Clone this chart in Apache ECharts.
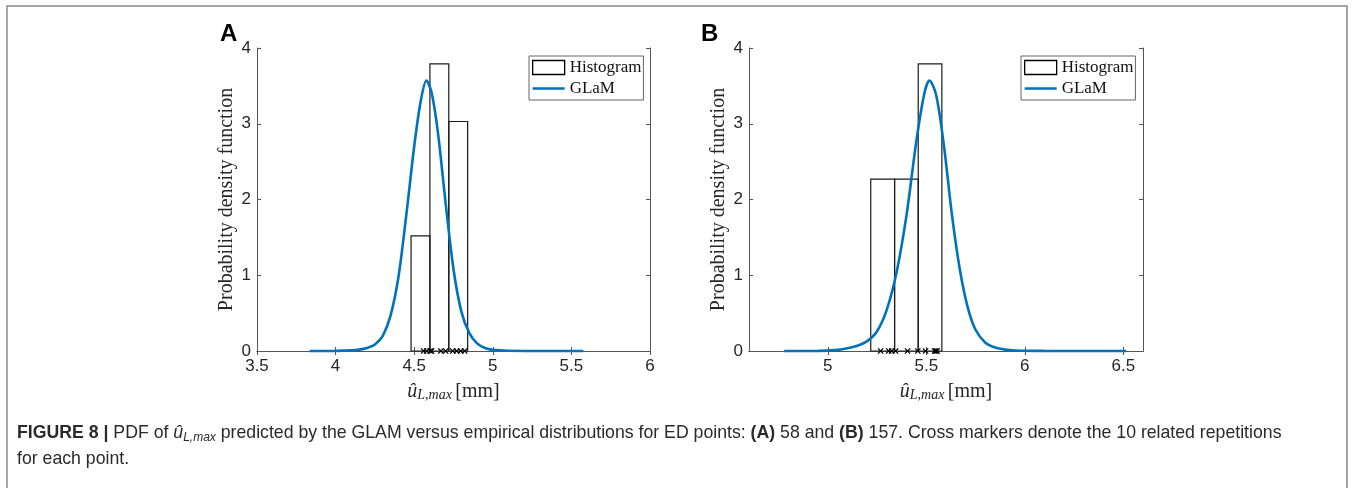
<!DOCTYPE html>
<html>
<head>
<meta charset="utf-8">
<script src="https://cdn.jsdelivr.net/npm/echarts@6/dist/echarts.min.js"></script>
<style>
html,body{margin:0;padding:0;background:#fff;}
#chart{width:1354px;height:488px;}
</style>
</head>
<body>
<div id="chart"></div>
<script>
// ---- Panel A data (ED point 58) ----
var histEdgesA = [4.48, 4.60, 4.72, 4.84];
var histHeightsA = [1.52, 3.79, 3.03];
var glamXA = [3.835, 4.00, 4.10, 4.15, 4.20, 4.25, 4.30, 4.35, 4.40, 4.45, 4.50, 4.54, 4.578, 4.61, 4.65, 4.70, 4.75, 4.80, 4.85, 4.90, 4.95, 5.00, 5.10, 5.30, 5.576];
var glamYA = [0, 0.002, 0.008, 0.018, 0.04, 0.085, 0.2, 0.47, 0.98, 1.80, 2.70, 3.28, 3.57, 3.42, 2.90, 1.95, 1.08, 0.52, 0.24, 0.10, 0.04, 0.015, 0.003, 0.0005, 0];
var crossesA = [4.560, 4.579, 4.602, 4.611, 4.669, 4.700, 4.745, 4.770, 4.796, 4.821];

// ---- Panel B data (ED point 157) ----
var histEdgesB = [5.218, 5.339, 5.459, 5.579];
var histHeightsB = [2.27, 2.27, 3.79];
var glamXB = [4.779, 4.95, 5.05, 5.10, 5.15, 5.20, 5.25, 5.30, 5.35, 5.40, 5.45, 5.49, 5.516, 5.55, 5.59, 5.63, 5.67, 5.71, 5.75, 5.80, 5.85, 5.90, 5.95, 6.10, 6.515];
var glamYB = [0, 0.002, 0.015, 0.035, 0.07, 0.13, 0.26, 0.55, 1.05, 1.80, 2.78, 3.40, 3.57, 3.38, 2.70, 1.80, 1.08, 0.58, 0.28, 0.11, 0.045, 0.018, 0.007, 0.001, 0];
var crossesB = [5.268, 5.309, 5.324, 5.344, 5.405, 5.457, 5.496, 5.542, 5.549, 5.555];

// ---- Axis ticks ----
var yTicks = [0, 1, 2, 3, 4];
var xTicksA = [3.5, 4, 4.5, 5, 5.5, 6];
var xTicksB = [5, 5.5, 6, 6.5];

var SERIF = "'Liberation Serif', 'Times New Roman', serif";
var SANS = "'Liberation Sans', Arial, Helvetica, sans-serif";
var AXC = '#555';
var TXC = '#262626';
var BLUE = '#0072BD';

function pairs(xs, ys) { return xs.map(function (x, i) { return [x, ys[i]]; }); }
function bins(edges, h) {
  var out = [];
  for (var i = 0; i < h.length; i++) out.push([edges[i], edges[i + 1], h[i]]);
  return out;
}

function xAxes(gi, min, max, ticks) {
  var common = {
    type: 'value', gridIndex: gi, min: min, max: max,
    splitLine: { show: false },
    axisLine: { show: true, lineStyle: { color: AXC, width: 1 } },
    axisTick: { show: true, inside: true, length: 4, lineStyle: { color: AXC }, customValues: ticks },
  };
  var bottom = Object.assign({}, common, {
    position: 'bottom',
    axisLabel: { show: true, customValues: ticks, margin: 7, fontFamily: SANS, fontSize: 17, color: TXC },
    name: '{u|\u00fb}{s|L,max} {n|[mm]}',
    nameLocation: 'middle', nameGap: 27,
    nameTextStyle: {
      rich: {
        u: { fontFamily: SERIF, fontStyle: 'italic', fontSize: 20, color: TXC, verticalAlign: 'top', lineHeight: 20 },
        s: { fontFamily: SERIF, fontStyle: 'italic', fontSize: 14, color: TXC, verticalAlign: 'bottom', lineHeight: 14, padding: [8, 0, 0, 0] },
        n: { fontFamily: SERIF, fontSize: 20, color: TXC, verticalAlign: 'top', lineHeight: 20 }
      }
    }
  });
  var top = Object.assign({}, common, { position: 'top', axisLabel: { show: false } });
  return [bottom, top];
}
function yAxes(gi) {
  var common = {
    type: 'value', gridIndex: gi, min: 0, max: 4, interval: 1,
    splitLine: { show: false },
    axisLine: { show: true, lineStyle: { color: AXC, width: 1 } },
    axisTick: { show: true, inside: true, length: 4, lineStyle: { color: AXC } }
  };
  var left = Object.assign({}, common, {
    position: 'left',
    axisLabel: { show: true, margin: 6, fontFamily: SANS, fontSize: 17, color: TXC },
    name: 'Probability density function', nameLocation: 'middle', nameGap: 20,
    nameTextStyle: { fontFamily: SERIF, fontSize: 20, color: TXC }
  });
  var right = Object.assign({}, common, { position: 'right', axisLabel: { show: false } });
  return [left, right];
}

function histSeries(xi, yi, data) {
  return {
    name: 'Histogram', type: 'custom', xAxisIndex: xi, yAxisIndex: yi, z: 2,
    itemStyle: { color: '#fff', borderColor: '#000' },
    encode: { x: [0, 1], y: 2 },
    data: data,
    renderItem: function (params, api) {
      var p0 = api.coord([api.value(0), api.value(2)]);
      var p1 = api.coord([api.value(1), 0]);
      return {
        type: 'rect',
        shape: { x: p0[0], y: p0[1], width: p1[0] - p0[0], height: p1[1] - p0[1] },
        style: { fill: 'none', stroke: '#1a1a1a', lineWidth: 1.2 }
      };
    }
  };
}
function crossSeries(xi, yi, xs) {
  return {
    name: 'crosses', type: 'custom', xAxisIndex: xi, yAxisIndex: yi, z: 5,
    data: xs.map(function (x) { return [x, 0]; }),
    renderItem: function (params, api) {
      var p = api.coord([api.value(0), api.value(1)]);
      var r = 2.6;
      return {
        type: 'group',
        children: [
          { type: 'line', shape: { x1: p[0] - r, y1: p[1] - r, x2: p[0] + r, y2: p[1] + r }, style: { stroke: '#000', lineWidth: 1.3 } },
          { type: 'line', shape: { x1: p[0] - r, y1: p[1] + r, x2: p[0] + r, y2: p[1] - r }, style: { stroke: '#000', lineWidth: 1.3 } }
        ]
      };
    }
  };
}
function glamSeries(xi, yi, data) {
  return {
    name: 'GLaM', type: 'line', xAxisIndex: xi, yAxisIndex: yi, z: 4,
    data: data, smooth: 0.3, symbol: 'none', showSymbol: false,
    lineStyle: { color: BLUE, width: 2.6 }, itemStyle: { color: BLUE },
    clip: false
  };
}
function legendAt(left) {
  return {
    left: left, top: 56, orient: 'vertical',
    padding: [3, 2, 3, 3], itemGap: 4, itemWidth: 32, itemHeight: 14,
    backgroundColor: '#fff', borderColor: '#666', borderWidth: 1,
    selectedMode: false, symbolKeepAspect: true,
    textStyle: { fontFamily: SERIF, fontSize: 17, color: '#111', lineHeight: 16 },
    data: [
      { name: 'Histogram', icon: 'rect', itemStyle: { color: '#fff', borderColor: '#000', borderWidth: 1.3 } },
      { name: 'GLaM', icon: 'path://M0,0L32,0L32,2.6L0,2.6Z', itemStyle: { color: BLUE, borderWidth: 0 } }
    ]
  };
}

var xa = xAxes(0, 3.5, 6, xTicksA);
var xb = xAxes(1, 4.6, 6.6, xTicksB);
var ya = yAxes(0);
var yb = yAxes(1);

var option = {
  animation: false,
  backgroundColor: '#fff',
  grid: [
    { left: 257, top: 48, width: 393, height: 303 },
    { left: 749, top: 48, width: 394, height: 303 }
  ],
  xAxis: [xa[0], xa[1], xb[0], xb[1]],
  yAxis: [ya[0], ya[1], yb[0], yb[1]],
  legend: [legendAt(529), legendAt(1021)],
  series: [
    histSeries(0, 0, bins(histEdgesA, histHeightsA)),
    glamSeries(0, 0, pairs(glamXA, glamYA)),
    crossSeries(0, 0, crossesA),
    histSeries(2, 2, bins(histEdgesB, histHeightsB)),
    glamSeries(2, 2, pairs(glamXB, glamYB)),
    crossSeries(2, 2, crossesB)
  ],
  graphic: [
    { type: 'polyline', shape: { points: [[7, 490], [7, 6], [1347, 6], [1347, 490]] }, style: { stroke: '#8a8a8a', lineWidth: 1.5, fill: 'none' }, silent: true },
    { type: 'text', left: 220, top: 22, style: { text: 'A', fontFamily: SANS, fontWeight: 'bold', fontSize: 24, fill: '#000' } },
    { type: 'text', left: 701, top: 22, style: { text: 'B', fontFamily: SANS, fontWeight: 'bold', fontSize: 24, fill: '#000' } },
    {
      type: 'text', left: 17, top: 420,
      style: {
        text: '{b|FIGURE 8 |} {t|PDF of }{i|\u00fb}{s|L,max}{t| predicted by the GLAM versus empirical distributions for ED points: }{b|(A)}{t| 58 and }{b|(B)}{t| 157. Cross markers denote the 10 related repetitions}\n{t|for each point.}',
        fontFamily: SANS, fontSize: 17.7, fill: '#2a2a2a', lineHeight: 26,
        rich: {
          b: { fontFamily: SANS, fontWeight: 'bold', fontSize: 17.7, fill: '#2a2a2a', lineHeight: 26 },
          t: { fontFamily: SANS, fontSize: 17.7, fill: '#2a2a2a', lineHeight: 26 },
          i: { fontFamily: SANS, fontStyle: 'italic', fontSize: 17.7, fill: '#2a2a2a', lineHeight: 26 },
          s: { fontFamily: SANS, fontStyle: 'italic', fontSize: 12, fill: '#2a2a2a', lineHeight: 26, padding: [9, 0, 0, 0] }
        }
      }
    }
  ]
};

var chart = echarts.init(document.getElementById('chart'), null, { renderer: 'canvas' });
chart.setOption(option);
</script>
</body>
</html>
